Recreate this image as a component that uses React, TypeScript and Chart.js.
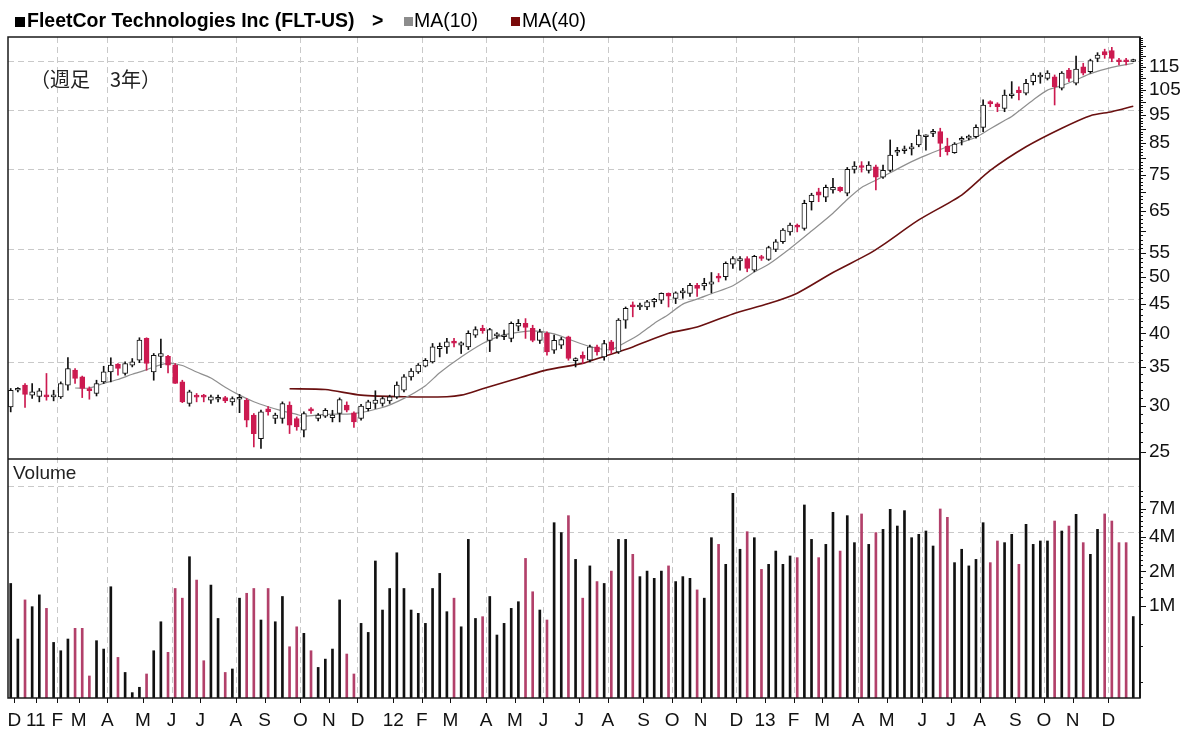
import React, { useEffect, useRef } from 'react';
import { Chart, registerables } from 'chart.js';

Chart.register(...registerables);
Chart.defaults.font.family = '"Liberation Sans", Arial, sans-serif';

// ---- weekly candles (index 0 = week of Dec 2010) ----
const openP = [
  29.88, 31.92, 32.56, 31.30, 31.15, 31.30, 31.09, 31.09, 32.56, 34.56,
  33.65, 32.14, 31.51, 32.99, 34.33, 35.40, 34.11, 35.25, 35.95, 39.20,
  34.33, 36.50, 36.50, 35.25, 32.99, 30.28, 31.15, 31.15, 30.68, 30.80,
  31.00, 30.48, 30.80, 30.68, 28.91, 26.35, 29.65, 28.53, 28.53, 30.08,
  28.53, 27.23, 29.60, 28.53, 28.79, 28.64, 29.10, 30.08, 29.17, 28.53,
  29.68, 30.28, 30.28, 30.60, 31.09, 31.92, 33.65, 34.33, 35.10, 35.71,
  37.65, 37.90, 38.80, 38.16, 37.90, 39.70, 40.80, 38.90, 39.60, 39.45,
  39.20, 41.15, 41.60, 40.80, 38.90, 40.00, 37.40, 38.16, 39.45, 35.90,
  36.67, 35.95, 37.90, 36.43, 38.67, 37.16, 42.15, 44.80, 44.40, 44.40,
  45.30, 45.60, 46.85, 45.95, 46.95, 46.85, 48.40, 48.25, 48.60, 50.20,
  50.05, 52.60, 53.30, 53.80, 51.40, 54.20, 53.60, 55.80, 57.50, 59.80,
  61.45, 60.60, 67.40, 70.10, 68.60, 70.60, 71.35, 69.70, 76.60, 77.60,
  76.30, 77.40, 74.30, 76.30, 82.00, 82.50, 83.10, 84.40, 87.20, 88.40,
  89.00, 84.05, 81.85, 86.00, 86.70, 87.20, 90.50, 100.20, 99.40, 97.60,
  102.60, 104.96, 103.60, 108.50, 110.50, 109.90, 110.60, 105.70, 113.60, 107.80,
  115.10, 112.90, 119.00, 122.20, 122.70, 118.30, 118.30, 117.50,
];
const highP = [
  32.14, 32.25, 32.78, 32.78, 32.14, 34.11, 31.92, 32.99, 36.34, 34.79,
  33.76, 32.34, 33.21, 35.10, 36.30, 35.48, 35.71, 36.19, 39.30, 39.30,
  36.92, 39.10, 36.67, 35.48, 33.21, 31.92, 31.51, 31.40, 31.30, 31.30,
  31.15, 31.09, 31.40, 30.89, 29.10, 29.50, 29.90, 29.15, 30.48, 30.48,
  28.71, 29.29, 29.80, 29.10, 29.68, 29.48, 30.96, 30.48, 29.29, 30.19,
  30.68, 31.85, 31.09, 31.30, 32.99, 33.97, 34.79, 35.48, 36.19, 38.42,
  38.50, 39.20, 39.20, 38.67, 40.40, 41.05, 41.30, 40.80, 40.10, 40.50,
  41.85, 42.25, 42.40, 41.30, 40.65, 40.25, 39.70, 39.35, 39.55, 36.30,
  37.16, 38.16, 38.16, 38.90, 38.90, 42.40, 44.40, 45.30, 45.10, 45.60,
  45.95, 46.95, 46.95, 47.15, 47.80, 48.75, 48.75, 49.75, 50.90, 50.70,
  53.10, 54.20, 54.20, 54.20, 54.50, 54.50, 56.50, 58.00, 60.60, 61.90,
  61.70, 67.80, 69.70, 71.10, 72.00, 73.95, 71.50, 77.20, 79.00, 79.00,
  79.00, 77.95, 77.95, 86.10, 83.60, 84.05, 84.95, 89.60, 87.90, 89.80,
  90.20, 86.70, 85.20, 87.20, 87.80, 91.40, 100.90, 100.60, 99.80, 104.96,
  108.50, 106.30, 109.50, 112.20, 112.40, 113.30, 111.40, 112.90, 114.40, 120.10,
  116.70, 118.60, 121.70, 123.40, 124.30, 119.00, 119.00, 118.60,
];
const lowP = [
  29.29, 31.71, 29.80, 30.89, 30.48, 30.68, 30.60, 30.89, 31.92, 32.78,
  31.00, 30.80, 31.20, 32.78, 32.99, 33.88, 33.88, 35.01, 35.60, 34.56,
  33.21, 34.90, 34.20, 32.78, 30.38, 29.96, 30.48, 30.48, 30.28, 30.48,
  30.38, 30.08, 29.20, 27.60, 25.49, 25.33, 28.91, 27.97, 28.00, 26.88,
  27.23, 26.53, 29.10, 28.26, 28.64, 28.15, 28.15, 29.29, 27.53, 28.34,
  29.40, 29.68, 29.96, 30.28, 30.89, 31.71, 33.21, 34.11, 35.01, 35.55,
  36.43, 36.92, 37.90, 36.92, 37.50, 39.35, 40.00, 37.20, 39.20, 39.00,
  38.67, 40.40, 39.20, 38.67, 38.42, 36.67, 36.92, 37.65, 35.95, 35.00,
  35.48, 35.71, 36.67, 35.95, 36.92, 36.92, 40.80, 42.70, 43.95, 43.95,
  44.40, 45.00, 44.40, 45.00, 45.95, 46.30, 46.30, 47.50, 46.95, 49.05,
  49.40, 51.75, 51.40, 51.05, 51.05, 53.40, 53.40, 55.30, 57.10, 59.00,
  59.80, 60.20, 65.20, 67.40, 67.40, 69.70, 70.10, 69.00, 75.50, 75.80,
  75.50, 70.60, 73.95, 75.90, 80.90, 81.60, 81.10, 83.80, 82.70, 87.20,
  80.60, 81.10, 81.65, 84.40, 86.10, 86.70, 89.00, 98.20, 96.30, 96.30,
  101.60, 100.90, 102.90, 107.10, 107.80, 109.20, 98.90, 104.96, 108.50, 107.10,
  111.40, 112.20, 117.40, 119.00, 117.40, 115.90, 115.90, 117.40,
];
const closeP = [
  31.92, 32.14, 31.40, 31.71, 31.85, 31.09, 31.30, 32.78, 34.79, 33.44,
  32.14, 31.85, 32.78, 34.33, 35.25, 34.79, 35.48, 35.71, 38.92, 35.48,
  36.67, 36.92, 35.25, 32.78, 30.48, 31.71, 31.05, 31.05, 31.09, 31.00,
  30.60, 30.89, 31.00, 28.34, 26.88, 29.29, 29.29, 28.91, 30.28, 27.78,
  27.60, 29.10, 29.40, 28.91, 29.48, 28.91, 30.76, 29.48, 28.15, 29.96,
  30.48, 30.68, 30.89, 31.09, 32.56, 33.65, 34.45, 35.25, 35.95, 37.90,
  38.00, 38.67, 38.45, 38.50, 40.00, 40.60, 40.40, 40.60, 39.90, 39.70,
  41.60, 41.60, 40.95, 38.90, 40.25, 37.16, 38.90, 39.00, 36.19, 36.19,
  36.19, 37.90, 37.16, 38.42, 37.40, 42.15, 44.15, 44.40, 44.70, 45.30,
  45.75, 46.85, 46.35, 46.95, 47.35, 48.40, 47.80, 48.75, 49.05, 49.75,
  52.80, 53.80, 53.80, 51.75, 54.30, 53.80, 56.20, 57.50, 60.20, 61.45,
  60.90, 66.95, 69.20, 69.20, 71.35, 71.35, 70.40, 76.60, 77.60, 77.20,
  77.95, 74.30, 76.30, 81.10, 82.30, 82.90, 83.50, 87.80, 87.80, 89.00,
  84.95, 82.20, 84.70, 86.40, 87.20, 90.50, 98.90, 99.40, 98.20, 102.90,
  103.30, 103.80, 107.80, 111.40, 111.40, 112.20, 106.30, 112.20, 109.90, 114.00,
  112.20, 117.90, 120.60, 120.60, 119.00, 117.40, 117.40, 118.10,
];
// weekly volume, millions of shares
const volumeM = [
  1.57, 0.517, 1.13, 0.987, 1.25, 0.954, 0.483, 0.409, 0.517, 0.64,
  0.64, 0.247, 0.50, 0.423, 1.47, 0.358, 0.265, 0.177, 0.197, 0.257,
  0.409, 0.73, 0.396, 1.42, 1.17, 2.68, 1.68, 0.335, 1.52, 0.78,
  0.265, 0.284, 1.17, 1.29, 1.42, 0.756, 1.42, 0.73, 1.21, 0.443,
  0.66, 0.579, 0.409, 0.293, 0.346, 0.423, 1.13, 0.383, 0.257, 0.707,
  0.59, 2.46, 0.923, 1.42, 2.9, 1.42, 0.923, 0.864, 0.707, 1.42,
  1.92, 0.893, 1.17, 0.66, 3.79, 0.78, 0.808, 1.21, 0.56, 0.707,
  0.954, 1.09, 2.59, 1.33, 0.923, 0.756, 5.29, 4.34, 6.09, 2.54,
  1.17, 2.23, 1.63, 1.57, 2.01, 3.79, 3.79, 2.81, 1.80, 2.01,
  1.74, 2.01, 2.23, 1.63, 1.80, 1.74, 1.38, 1.17, 3.92, 3.43,
  2.30, 9.52, 3.11, 4.42, 3.92, 2.08, 2.30, 3.0, 2.30, 2.72,
  2.63, 7.54, 3.79, 2.63, 3.43, 6.51, 3.0, 6.09, 3.55, 6.30,
  3.43, 4.34, 4.63, 6.91, 4.95, 6.73, 3.92, 4.19, 4.48, 3.32,
  6.96, 5.89, 2.38, 3.11, 2.23, 2.54, 5.29, 2.38, 3.67, 3.55,
  4.19, 2.30, 5.12, 3.43, 3.67, 3.67, 5.47, 4.48, 4.95, 6.25,
  3.55, 2.81, 4.63, 6.30, 5.47, 3.55, 3.55, 0.81,
];
// moving averages: [week, value]
const ma10Points: [number, number][] = [
  [9, 32.2], [11, 32.2], [13, 32.8], [15, 33.3], [17, 34.0], [19, 34.6], [20, 35.0], [22, 35.5],
  [24, 35.2], [26, 34.3], [28, 33.5], [30, 32.3], [32, 31.3], [34, 30.5], [36, 29.9], [38, 29.4],
  [40, 29.0], [41, 28.8], [44, 29.0], [48, 29.1], [52, 29.8], [55, 30.9], [58, 32.5], [60, 34.2],
  [63, 36.4], [66, 38.4], [68, 39.4], [70, 40.0], [73, 40.4], [76, 39.9], [78, 39.1], [80, 38.3],
  [82, 37.7], [84, 37.5], [86, 38.6], [88, 39.9], [90, 41.6], [92, 43.1], [94, 44.9], [96, 45.8],
  [98, 46.8], [101, 48.3], [104, 51.0], [106, 52.6], [109, 56.0], [112, 60.0], [115, 64.4], [117, 68.0],
  [119, 71.3], [121, 73.4], [123, 75.6], [126, 79.0], [128, 81.0], [131, 83.8], [133, 85.3], [135, 87.0],
  [137, 90.0], [139, 93.0], [140, 94.5], [143, 100.9], [145, 104.9], [147, 106.8], [149, 109.2], [151, 112.0],
  [154, 114.8], [157, 116.7],
];
const ma40Points: [number, number][] = [
  [39, 32.1], [44, 32.0], [49, 31.3], [55, 31.1], [61, 31.1], [63, 31.3], [66, 32.1], [70, 33.2],
  [75, 34.6], [80, 35.5], [83, 36.5], [87, 37.9], [92, 40.0], [96, 41.0], [101, 43.2], [106, 45.0],
  [110, 46.9], [115, 50.9], [120, 54.8], [122, 56.8], [127, 62.7], [133, 69.2], [137, 76.3], [142, 83.8],
  [147, 90.2], [151, 94.8], [154, 96.3], [157, 98.4],
];
// month ticks (week position) and their labels
const monthTickPos = [
  0.5, 3.5, 6.5, 9.5, 13.5, 18.5, 22.5, 26.5, 31.5, 35.5, 40.5, 44.5, 48.5,
  53.5, 57.5, 61.5, 66.5, 70.5, 74.5, 79.5, 83.5, 88.5, 92.5, 96.5, 101.5,
  105.5, 109.5, 113.5, 118.5, 122.5, 127.5, 131.5, 135.5, 140.5, 144.5, 148.5, 153.5,
];
const monthTickLabels = [
  'D', '11', 'F', 'M', 'A', 'M', 'J', 'J', 'A', 'S', 'O', 'N', 'D',
  '12', 'F', 'M', 'A', 'M', 'J', 'J', 'A', 'S', 'O', 'N', 'D',
  '13', 'F', 'M', 'A', 'M', 'J', 'J', 'A', 'S', 'O', 'N', 'D',
];
const priceTicks = [25, 30, 35, 40, 45, 50, 55, 65, 75, 85, 95, 105, 115];
const volumeTicks = [1, 2, 4, 7];
const priceGridValues = [117.8, 96.97, 76.87, 55.85, 45.8, 35.73];
const volumeGridValues = [11.0, 4.4];
const volumeMinorTicks = [0.22, 0.45, 0.7, 1.2, 1.4, 1.6, 1.8, 2.25, 2.5, 2.75, 3, 3.25, 3.5, 3.75, 4.5, 5, 5.5, 6, 6.5, 8, 9, 10];

const RED = '#cc1a50';
const VOL_RED = '#b2406a';
const weeks = openP.map((_, i) => i);
const up = weeks.map((i) => closeP[i] >= openP[i]);

const panelPlugin = {
  id: 'panels',
  beforeDatasetsDraw(chart: any) {
    const { ctx, chartArea: a, scales } = chart;
    const xs = scales.x, ys = scales.y, yv = scales.yv;
    ctx.save();
    ctx.strokeStyle = '#c9c9c9';
    ctx.lineWidth = 1;
    ctx.setLineDash([6, 4]);
    const hline = (py: number) => {
      const yy = Math.round(py) + 0.5;
      ctx.beginPath(); ctx.moveTo(a.left, yy); ctx.lineTo(a.right, yy); ctx.stroke();
    };
    priceGridValues.forEach((v) => hline(ys.getPixelForValue(v)));
    volumeGridValues.forEach((v) => hline(yv.getPixelForValue(v)));
    monthTickPos.forEach((p, i) => {
      if (i > 0 && i % 2 === 0) {
        const xx = Math.round(xs.getPixelForValue(p)) + 0.5;
        ctx.beginPath(); ctx.moveTo(xx, a.top); ctx.lineTo(xx, a.bottom); ctx.stroke();
      }
    });
    ctx.restore();
  },
  afterDatasetsDraw(chart: any) {
    const { ctx, chartArea: a, scales } = chart;
    const xs = scales.x, ys = scales.y, yv = scales.yv;
    ctx.save();
    ctx.setLineDash([]);
    ctx.strokeStyle = '#1a1a1a';
    ctx.lineWidth = 1.5;
    ctx.strokeRect(a.left, a.top, a.right - a.left, a.bottom - a.top);
    ctx.beginPath(); ctx.moveTo(a.left, ys.bottom); ctx.lineTo(a.right, ys.bottom); ctx.stroke();
    ctx.lineWidth = 2;
    ctx.beginPath(); ctx.moveTo(a.right, a.top); ctx.lineTo(a.right, a.bottom); ctx.stroke();
    // right axis tick marks
    ctx.lineWidth = 1;
    ctx.strokeStyle = '#111';
    for (let v = 25; v <= 129; v++) {
      const yy = Math.round(ys.getPixelForValue(v)) + 0.5;
      const len = v % 5 === 0 ? 6 : 3;
      ctx.beginPath(); ctx.moveTo(a.right, yy); ctx.lineTo(a.right + len, yy); ctx.stroke();
    }
    volumeTicks.forEach((v) => {
      const yy = Math.round(yv.getPixelForValue(v)) + 0.5;
      ctx.beginPath(); ctx.moveTo(a.right, yy); ctx.lineTo(a.right + 6, yy); ctx.stroke();
    });
    volumeMinorTicks.forEach((v) => {
      const yy = Math.round(yv.getPixelForValue(v)) + 0.5;
      ctx.beginPath(); ctx.moveTo(a.right, yy); ctx.lineTo(a.right + 3, yy); ctx.stroke();
    });
    monthTickPos.forEach((p) => {
      const xx = Math.round(xs.getPixelForValue(p)) + 0.5;
      ctx.beginPath(); ctx.moveTo(xx, a.bottom); ctx.lineTo(xx, a.bottom + 5); ctx.stroke();
    });
    // texts
    ctx.fillStyle = '#000';
    ctx.textBaseline = 'alphabetic';
    ctx.fillRect(15, 17, 10, 10);
    ctx.font = 'bold 19.5px "Liberation Sans", Arial, sans-serif';
    ctx.fillText('FleetCor Technologies Inc (FLT-US)', 27, 27);
    ctx.fillText('>', 372, 27);
    ctx.fillStyle = '#8c8c8c';
    ctx.fillRect(404, 17, 9, 9);
    ctx.fillStyle = '#000';
    ctx.font = '19.5px "Liberation Sans", Arial, sans-serif';
    ctx.fillText('MA(10)', 414, 27);
    ctx.fillStyle = '#7a0a0a';
    ctx.fillRect(511, 17, 9, 9);
    ctx.fillStyle = '#000';
    ctx.fillText('MA(40)', 522, 27);
    ctx.textBaseline = 'middle';
    ctx.font = '20px "Noto Sans CJK JP", sans-serif';
    ctx.fillStyle = '#222';
    ctx.fillText('（週足　3年）', 30, 79);
    ctx.font = '19px "Liberation Sans", Arial, sans-serif';
    ctx.fillText('Volume', 13, 474);
    ctx.restore();
  },
};

export default function App() {
  const ref = useRef<HTMLCanvasElement>(null);
  useEffect(() => {
    const chart = new Chart(ref.current as HTMLCanvasElement, {
      type: 'bar',
      data: {
        datasets: [
          {
            type: 'bar',
            label: 'body',
            xAxisID: 'x',
            yAxisID: 'y',
            data: weeks.map((i) => ({ x: i, y: [Math.min(openP[i], closeP[i]), Math.max(openP[i], closeP[i])] })) as any,
            backgroundColor: up.map((u) => (u ? '#ffffff' : RED)),
            borderColor: up.map((u) => (u ? '#111' : RED)),
            borderWidth: 1,
            borderSkipped: false,
            barThickness: 5,
            minBarLength: 2,
            grouped: false,
            order: 0,
          } as any,
          {
            type: 'bar',
            label: 'wick',
            xAxisID: 'x',
            yAxisID: 'y',
            data: weeks.map((i) => ({ x: i, y: [lowP[i], highP[i]] })) as any,
            backgroundColor: up.map((u) => (u ? '#111' : RED)),
            barThickness: 1,
            grouped: false,
            order: 1,
          } as any,
          {
            type: 'line',
            label: 'MA(10)',
            xAxisID: 'x',
            yAxisID: 'y',
            data: ma10Points.map(([x, y]) => ({ x, y })),
            borderColor: '#8f8f8f',
            borderWidth: 1.2,
            pointRadius: 0,
            tension: 0.25,
            order: 2,
          } as any,
          {
            type: 'line',
            label: 'MA(40)',
            xAxisID: 'x',
            yAxisID: 'y',
            data: ma40Points.map(([x, y]) => ({ x, y })),
            borderColor: '#6a1010',
            borderWidth: 1.6,
            pointRadius: 0,
            tension: 0.25,
            order: 3,
          } as any,
          {
            type: 'bar',
            label: 'Volume',
            xAxisID: 'x',
            yAxisID: 'yv',
            data: weeks.map((i) => ({ x: i, y: volumeM[i] })) as any,
            backgroundColor: up.map((u) => (u ? '#111' : VOL_RED)),
            barThickness: 2,
            grouped: false,
            order: 4,
          } as any,
        ],
      },
      options: {
        responsive: false,
        animation: false,
        events: [],
        layout: { padding: { left: 8, top: 37, right: 0, bottom: 0 } },
        plugins: { legend: { display: false }, tooltip: { enabled: false } },
        scales: {
          x: {
            type: 'linear',
            position: 'bottom',
            offset: false,
            bounds: 'data',
            min: -0.38,
            max: 157.94,
            grid: { display: false, offset: false, drawTicks: false },
            border: { display: false },
            ticks: {
              autoSkip: false,
              maxRotation: 0,
              minRotation: 0,
              padding: 11,
              color: '#111',
              font: { size: 19 },
              callback: (_v: any, idx: number) => monthTickLabels[idx] ?? '',
            },
            afterBuildTicks: (s: any) => {
              s.ticks = monthTickPos.map((v) => ({ value: v }));
            },
            afterFit: (s: any) => {
              s.height = 42;
              s.paddingLeft = 0;
              s.paddingRight = 0;
            },
          },
          y: {
            type: 'logarithmic',
            position: 'right',
            stack: 'panels',
            stackWeight: 422,
            bounds: 'data',
            min: 24.3,
            max: 129.5,
            grid: { display: false, drawTicks: false },
            border: { display: false },
            ticks: {
              autoSkip: false,
              padding: 9,
              color: '#111',
              font: { size: 19 },
              callback: (v: any) => String(v),
            },
            afterBuildTicks: (s: any) => {
              s.ticks = priceTicks.map((v) => ({ value: v }));
            },
            afterFit: (s: any) => {
              s.width = 60;
              s.paddingTop = 0;
              s.paddingBottom = 0;
            },
          },
          yv: {
            type: 'logarithmic',
            position: 'right',
            stack: 'panels',
            stackWeight: 239,
            bounds: 'data',
            min: 0.159,
            max: 18.9,
            grid: { display: false, drawTicks: false },
            border: { display: false },
            ticks: {
              autoSkip: false,
              padding: 9,
              color: '#111',
              font: { size: 19 },
              callback: (v: any) => `${v}M`,
            },
            afterBuildTicks: (s: any) => {
              s.ticks = volumeTicks.map((v) => ({ value: v }));
            },
            afterFit: (s: any) => {
              s.width = 60;
              s.paddingTop = 0;
              s.paddingBottom = 0;
            },
          },
        },
      } as any,
      plugins: [panelPlugin],
    });
    return () => chart.destroy();
  }, []);
  return (
    <div style={{ position: 'fixed', left: 0, top: 0, width: 1200, height: 740, background: '#ffffff' }}>
      <canvas ref={ref} width={1200} height={740} style={{ display: 'block', width: 1200, height: 740 }} />
    </div>
  );
}
